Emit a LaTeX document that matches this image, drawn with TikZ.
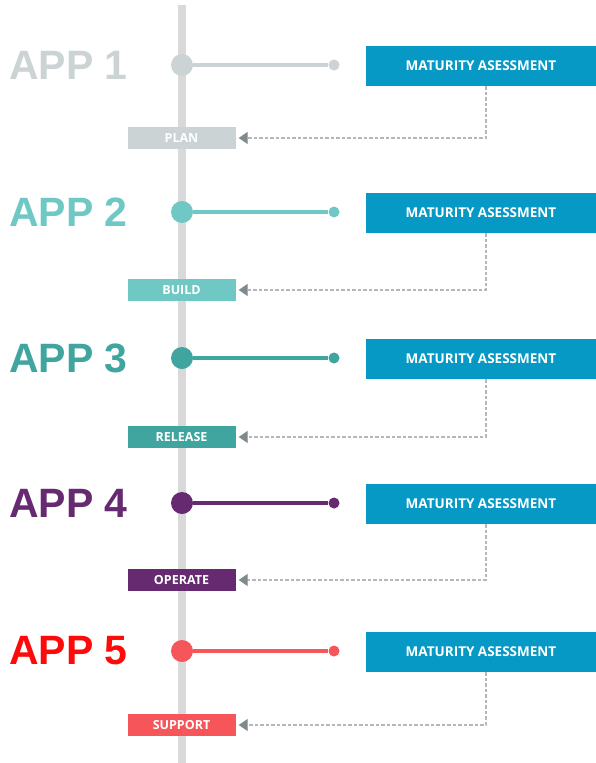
\documentclass[tikz,border=0pt]{standalone}
\usepackage{fontspec}
\setmainfont{Open Sans}
\newfontfamily\appfamily{Liberation Sans}
\usepackage{tikz}
\usetikzlibrary{arrows.meta}
\definecolor{barGray}{HTML}{D9D9D9}
\definecolor{matBlue}{HTML}{0799C5}
\definecolor{dashGray}{HTML}{B4B8BA}
\definecolor{tipGray}{HTML}{7F8A8D}
\definecolor{planC}{HTML}{CBD3D5}
\definecolor{buildC}{HTML}{6FC8C3}
\definecolor{releaseC}{HTML}{40A59E}
\definecolor{operateC}{HTML}{652A70}
\definecolor{supportC}{HTML}{F65559}
\definecolor{appFive}{HTML}{FF0A0A}
\tikzset{
  matbox/.style={fill=matBlue, text=white, minimum width=230pt, minimum height=40pt,
    inner sep=0pt, font=\bfseries\fontsize{13.5}{13.5}\selectfont},
  stagebox/.style={text=white, minimum width=108pt, minimum height=22pt,
    inner sep=0pt, font=\bfseries\fontsize{12.5}{12.5}\selectfont},
  dashline/.style={dashGray, dashed, line width=1.3pt, dash pattern=on 3.5pt off 2pt,
    -{Triangle[length=9pt,width=12pt,fill=tipGray,color=tipGray]}, shorten >=3pt}
}
% #1 number, #2 stage, #3 colour, #4 row y, #5 stage y, #6 title colour
\newcommand{\appRow}[6]{\node[anchor=east, text=#6, inner sep=0pt,
		font=\appfamily\bfseries\fontsize{41}{41}\selectfont] (t#1) at (128,#4) {APP #1};
	\node[circle, fill=#3, minimum size=22pt, inner sep=0pt] (c#1) at (182,#4) {};
	\node[circle, fill=#3, minimum size=11pt, inner sep=0pt] (d#1) at (334,#4) {};
	\draw[#3, line width=3.5pt] (c#1) -- (d#1);
	\node[matbox] (m#1) at (481,#4+1) {MATURITY ASESSMENT};
	\node[stagebox, fill=#3] (s#1) at (181.5,#5) {#2};
	\draw[dashline] ([xshift=5pt]m#1.south) |- (s#1.east);}

\begin{document}
\begin{tikzpicture}[x=1pt, y=-1pt]
	\useasboundingbox (0,0) rectangle (596,763);
	\coordinate (barTop) at (182,5);
	\coordinate (barBot) at (182,763);
	\draw[barGray, line width=8pt] (barTop) -- (barBot);

	\appRow{1}{PLAN}{planC}{65}{138}{planC}
	\appRow{2}{BUILD}{buildC}{212}{290}{buildC}
	\appRow{3}{RELEASE}{releaseC}{358}{437}{releaseC}
	\appRow{4}{OPERATE}{operateC}{503}{580}{operateC}
	\appRow{5}{SUPPORT}{supportC}{651}{725}{appFive}
\end{tikzpicture}
\end{document}
